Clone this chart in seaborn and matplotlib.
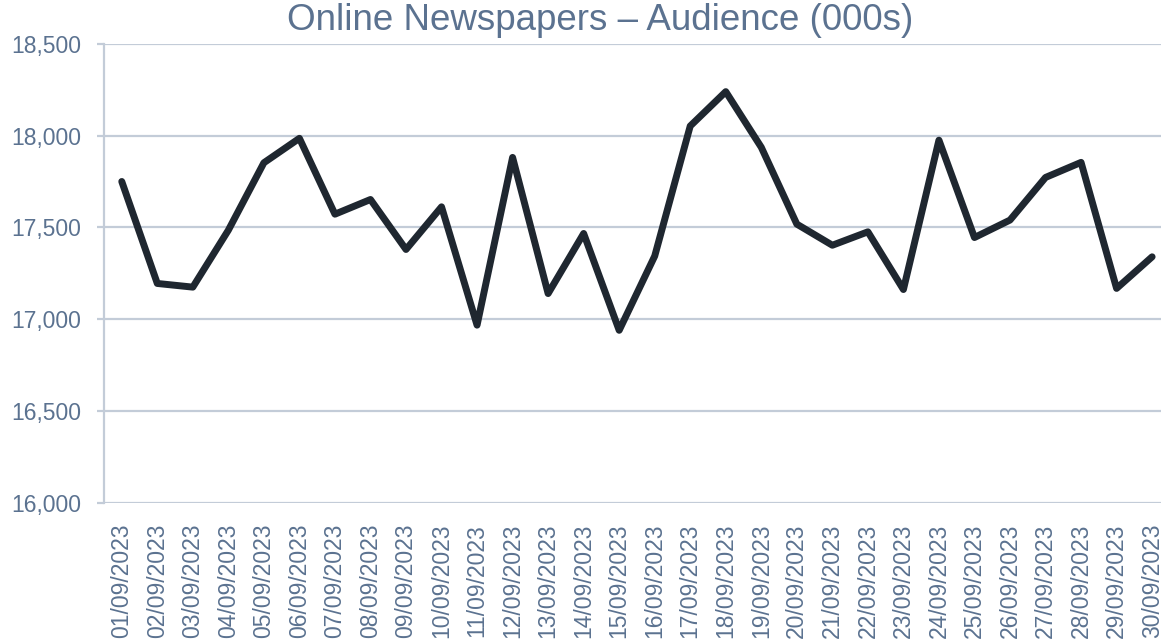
import matplotlib
matplotlib.use("Agg")
import matplotlib.pyplot as plt
import seaborn as sns
import pandas as pd
from matplotlib.ticker import FuncFormatter

dates = [f"{d:02d}/09/2023" for d in range(1, 31)]
audience = [17750, 17195, 17175, 17485, 17852, 17985, 17572, 17652, 17380, 17612,
            16968, 17881, 17140, 17467, 16940, 17344, 18052, 18239, 17936, 17518,
            17403, 17476, 17162, 17975, 17445, 17540, 17772, 17854, 17168, 17340]
y_ticks = [16000, 16500, 17000, 17500, 18000, 18500]
title = "Online Newspapers \u2013 Audience (000s)"

text_color = "#5B7290"
grid_color = "#C3CCD8"
line_color = "#1F2730"

sns.set_theme(style="white")
plt.rcParams["font.family"] = ["Liberation Sans", "DejaVu Sans"]

df = pd.DataFrame({"date": dates, "audience": audience})

fig = plt.figure(figsize=(11.61, 6.41), dpi=100)
ax = fig.add_axes([104 / 1161, 1 - 503 / 641, 1 - 104 / 1161, (503 - 43.7) / 641])

sns.lineplot(data=df, x="date", y="audience", ax=ax, color=line_color,
             linewidth=5.0, sort=False)
for ln in ax.lines:
    ln.set_solid_capstyle("round")
    ln.set_solid_joinstyle("round")

ax.set_ylim(16000, 18500)
ax.set_xlim(-0.5, 29.25)
ax.set_yticks(y_ticks)
ax.yaxis.set_major_formatter(FuncFormatter(lambda v, p: f"{int(v):,}"))
ax.set_xticks(range(len(dates)))
ax.set_xticklabels(dates, rotation=90)

ax.grid(axis="y", color=grid_color, linewidth=1.6)
ax.grid(axis="x", visible=False)
ax.set_axisbelow(True)

for side in ["top", "right", "bottom"]:
    ax.spines[side].set_visible(False)
ax.spines["left"].set_color(grid_color)
ax.spines["left"].set_linewidth(1.6)

ax.tick_params(axis="y", left=True, length=5, width=1.6, color=grid_color,
               labelsize=16.5, labelcolor=text_color, pad=11.5)
ax.tick_params(axis="x", bottom=False, labelsize=16.5, labelcolor=text_color, pad=9)

ax.set_xlabel("")
ax.set_ylabel("")

fig.text(600 / 1161, 1 - 20 / 641, title, ha="center", va="center",
         fontsize=26.5, color=text_color)

fig.savefig("out.png", dpi=100)
